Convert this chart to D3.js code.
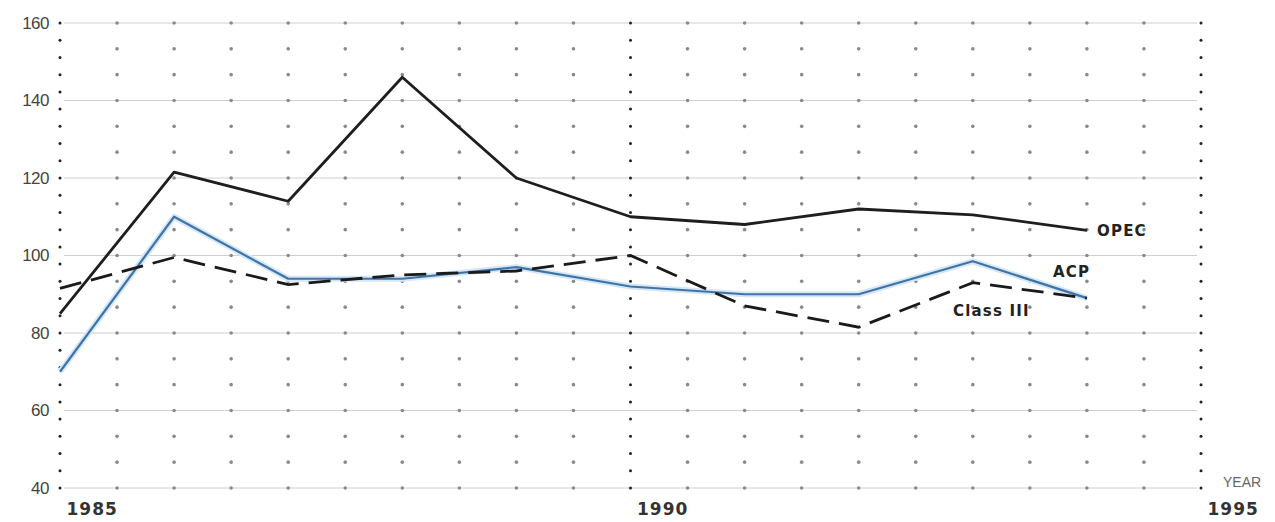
<!DOCTYPE html>
<html><head><meta charset="utf-8">
<script src="https://cdn.jsdelivr.net/npm/d3@7"></script>
<style>body{margin:0;background:#fff}svg{display:block}</style>
</head><body>
<svg id="c" width="1275" height="522"></svg>
<script>
const years = [1985,1986,1987,1988,1989,1990,1991,1992,1993,1994];
const opec = [85,121.5,114,146,120,110,108,112,110.5,106.5];
const acp = [70,110,94,94,97,92,90,90,98.5,89];
const class3 = [91.5,99.5,92.5,95,96,100,87,81.5,93,89];
const yTicks = [40,60,80,100,120,140,160];
const xTicks = [1985,1990,1995];
const seriesLabels = ["OPEC","ACP","Class III"];

const svg = d3.select("#c");
const x = d3.scaleLinear().domain([1985,1995]).range([60,1201]);
const y = d3.scaleLinear().domain([40,160]).range([488,23]);

// horizontal grid lines
svg.append("g").selectAll("line").data(yTicks).join("line")
  .attr("x1",x(1985)+4).attr("x2",x(1995)-4)
  .attr("y1",d=>y(d)).attr("y2",d=>y(d))
  .attr("stroke","#d0d0d0").attr("stroke-width",1);

// dot grid at half-year columns
const cols = d3.range(1985,1995.01,0.5);
const rows = d3.range(40,160.01,20/3);
const dots = [];
cols.forEach(c=>{
  const major = Math.abs(c-Math.round(c))<1e-6 && Math.round(c)%5===0;
  if(major){
    d3.range(40,160.01,120/27).forEach(r=>dots.push({c,r,major}));
  } else {
    rows.forEach(r=>dots.push({c,r,major}));
  }
});
svg.append("g").selectAll("circle").data(dots).join("circle")
  .attr("cx",d=>x(d.c)).attr("cy",d=>y(d.r))
  .attr("r",d=>d.major?1.5:1.8)
  .attr("fill",d=>d.major?"#222":"#8a8a8a");

// axes labels
const yAxis = d3.axisLeft(y).tickValues(yTicks).tickSize(0).tickPadding(0);
const gy = svg.append("g").attr("transform","translate(49,0)").call(yAxis);
gy.select(".domain").remove();
gy.selectAll("text").attr("font-family","Liberation Sans Narrow, Liberation Sans, Arial")
  .attr("font-size",17).attr("fill","#444").attr("letter-spacing",-0.5);

const xAxis = d3.axisBottom(x).tickValues(xTicks).tickSize(0).tickFormat(d3.format("d"));
const gx = svg.append("g").attr("transform","translate(0,500)").call(xAxis);
gx.select(".domain").remove();
gx.selectAll("text").attr("text-anchor","start").attr("dx",6)
  .attr("font-family","DejaVu Sans, Arial").attr("font-weight","bold")
  .attr("font-size",17).attr("fill","#333").attr("letter-spacing",1);

svg.append("text").attr("x",1223).attr("y",487).text("YEAR")
  .attr("font-family","Liberation Sans, Arial").attr("font-size",14).attr("fill","#666");

const line = d3.line().x((d,i)=>x(years[i])).y(d=>y(d));

// ACP with light halo
svg.append("path").datum(acp).attr("d",line).attr("fill","none")
  .attr("stroke","#d6e7f6").attr("stroke-width",6).attr("stroke-linejoin","round");
svg.append("path").datum(acp).attr("d",line).attr("fill","none")
  .attr("stroke","#3f74a8").attr("stroke-width",2.2).attr("stroke-linejoin","round");
// Class III dashed
svg.append("path").datum(class3).attr("d",line).attr("fill","none")
  .attr("stroke","#1a1a1a").attr("stroke-width",2.8).attr("stroke-dasharray","22,10");
// OPEC
svg.append("path").datum(opec).attr("d",line).attr("fill","none")
  .attr("stroke","#1e1e1e").attr("stroke-width",2.8).attr("stroke-linejoin","round");

// series labels
const labelPos = [{x:1097,v:opec[9]},{x:1053,v:acp[9]+7},{x:953,v:class3[9]-3}];
svg.append("g").selectAll("text").data(seriesLabels).join("text")
  .attr("x",(d,i)=>labelPos[i].x).attr("y",(d,i)=>y(labelPos[i].v)+6)
  .text(d=>d)
  .attr("font-family","DejaVu Sans, Arial").attr("font-weight","bold")
  .attr("font-size",15).attr("fill","#222").attr("letter-spacing",1.2);
</script>
</body></html>
